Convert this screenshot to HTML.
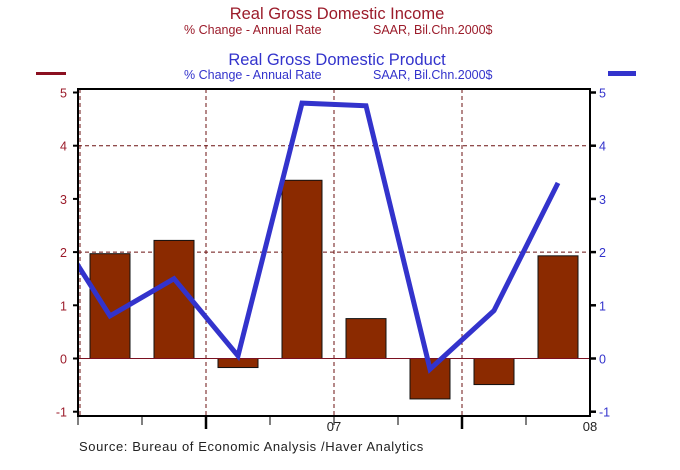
<!DOCTYPE html>
<html><head><meta charset="utf-8"><style>
body{margin:0;background:#fff;width:680px;height:465px;overflow:hidden;font-family:"Liberation Sans",sans-serif}
</style></head><body>
<svg width="680" height="465" font-family="Liberation Sans, sans-serif">
<text x="337" y="19" font-size="16.5" fill="#9b1b2a" text-anchor="middle">Real Gross Domestic Income</text>
<text x="184" y="34" font-size="12.5" fill="#9b1b2a">% Change - Annual Rate</text>
<text x="373" y="34" font-size="12.5" fill="#9b1b2a">SAAR, Bil.Chn.2000$</text>
<text x="337" y="65" font-size="16.5" fill="#3333cc" text-anchor="middle">Real Gross Domestic Product</text>
<text x="184" y="79" font-size="12.5" fill="#3333cc">% Change - Annual Rate</text>
<text x="373" y="79" font-size="12.5" fill="#3333cc">SAAR, Bil.Chn.2000$</text>
<rect x="36" y="72" width="30" height="3" fill="#8b1020"/>
<rect x="608" y="71" width="28" height="5" fill="#3333cc"/>
<g id="plot"></g>
<text x="79" y="451" font-size="13" letter-spacing="0.6" fill="#222">Source:  Bureau of Economic Analysis /Haver Analytics</text>
</svg>
<script>
const barValues=[1.97,2.22,-0.17,3.35,0.75,-0.76,-0.49,1.93];
const lineValues=[2.7,0.8,1.5,0.05,4.8,4.75,-0.2,0.9,3.3];
const yTicks=[-1,0,1,2,3,4,5];
const xLabels=["07","08"];
const NS="http://www.w3.org/2000/svg";
const L=78,R=590,T=89,B=416;
const qw=(R-L)/8;
const y=v=>358.5-v*53.2;
const xq=i=>L+qw*(i+0.5);
const g=document.getElementById('plot');
function mk(t,a){const e=document.createElementNS(NS,t);for(const k in a)e.setAttribute(k,a[k]);g.appendChild(e);return e;}
[2,4].forEach(v=>{const e=mk('line',{x1:L,x2:R,y1:y(v),y2:y(v),stroke:'#6b1010','stroke-dasharray':'4,3','stroke-width':1});

});
[2,4,6].forEach(q=>{const e=mk('line',{x1:L+q*qw,x2:L+q*qw,y1:T,y2:B,stroke:'#6b1010','stroke-dasharray':'4,3','stroke-width':1});

});
{const e=mk('line',{x1:L+2,x2:L+2,y1:T,y2:B,stroke:'#6b1010','stroke-dasharray':'4,3'});}
barValues.forEach((v,i)=>{const e=mk('rect',{x:xq(i)-20,y:Math.min(y(v),y(0)),width:40,height:Math.abs(y(v)-y(0)),fill:'#8b2a00',stroke:'#111','stroke-width':1});

});
{const e=mk('line',{x1:L,x2:R,y1:y(0),y2:y(0),stroke:'#7b1020','stroke-width':1});}
const cp=mk('clipPath',{id:'cp'});
const cr=document.createElementNS(NS,'rect');cr.setAttribute('x',L);cr.setAttribute('y',T);cr.setAttribute('width',R-L);cr.setAttribute('height',B-T);cp.appendChild(cr);
const pts=lineValues.map((v,i)=>xq(i-1)+','+y(v)).join(' ');
{const e=mk('polyline',{points:pts,fill:'none',stroke:'#3333cc','stroke-width':5,'stroke-linejoin':'miter','clip-path':'url(#cp)'});

}
{const e=mk('rect',{x:L,y:T,width:R-L,height:B-T,fill:'none',stroke:'#000','stroke-width':2});}
yTicks.forEach(v=>{
mk('line',{x1:L-5,x2:L,y1:y(v),y2:y(v),stroke:'#000','stroke-width':2});
mk('line',{x1:R,x2:R+6,y1:y(v),y2:y(v),stroke:'#000','stroke-width':2.5});
const a=mk('text',{x:L-11,y:y(v)+5,'font-size':12.5,fill:'#9b1b2a','text-anchor':'end'});a.textContent=v;

const b=mk('text',{x:R+9,y:y(v)+5,'font-size':12.5,fill:'#3333cc'});b.textContent=v;
});
for(let q=0;q<8;q++){const big=(q==2||q==6);mk('line',{x1:L+q*qw,x2:L+q*qw,y1:B,y2:B+(big?13:9),stroke:'#000','stroke-width':big?2.5:1});}
xLabels.forEach((s,i)=>{const t=mk('text',{x:L+(i*4+4)*qw,y:B+15,'font-size':13,fill:'#222','text-anchor':'middle'});t.textContent=s;
});
</script>
</body></html>
